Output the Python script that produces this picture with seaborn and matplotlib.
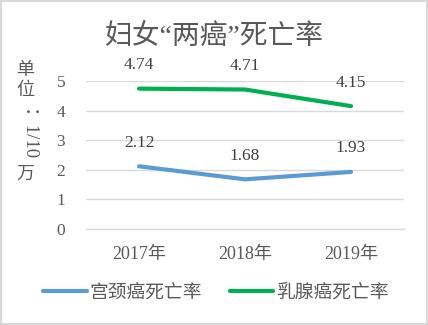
import matplotlib
matplotlib.use("Agg")
import matplotlib.pyplot as plt
import seaborn as sns
import pandas as pd
from matplotlib.patches import Rectangle

years = ["2017年", "2018年", "2019年"]
cervical = [2.12, 1.68, 1.93]
breast = [4.74, 4.71, 4.15]
series_names = ["宫颈癌死亡率", "乳腺癌死亡率"]
colors = ["#5B9BD5", "#00B050"]
yticks = [0, 1, 2, 3, 4, 5]

sns.set_style("white")
plt.rcParams['font.family'] = ['Liberation Serif', 'Noto Sans CJK SC', 'DejaVu Sans']
TXT = "#595959"

df = pd.DataFrame({
    "year": years * 2,
    "x": list(range(len(years))) * 2,
    "value": cervical + breast,
    "series": [series_names[0]] * 3 + [series_names[1]] * 3,
})

fig = plt.figure(figsize=(4.28, 3.25), dpi=100)
ax = fig.add_axes([0.201, 0.295, 0.743, 0.456])
sns.lineplot(data=df, x="x", y="value", hue="series", palette=colors,
             linewidth=3, ax=ax, legend=True)

for vals in (cervical, breast):
    for i, v in enumerate(vals):
        ax.annotate(f"{v:.2f}", (i, v), xytext=(0, 17), textcoords="offset points",
                    ha="center", va="center", fontsize=12.5, color="#404040")

ax.set_xlim(-0.5, 2.5)
ax.set_ylim(0, 5)
ax.set_yticks(yticks)
ax.set_yticklabels([str(t) for t in yticks], fontsize=12.5, color=TXT)
ax.set_xticks(range(len(years)))
ax.set_xticklabels(years, fontsize=13, color=TXT)
ax.set_xticks([-0.5, 0.5, 1.5, 2.5], minor=True)
ax.tick_params(axis="x", which="major", length=0, pad=12)
ax.tick_params(axis="x", which="minor", length=5, color="#D9D9D9", width=1)
ax.tick_params(axis="y", length=0, pad=15)
ax.grid(axis="y", color="#D9D9D9", linewidth=1)
ax.set_axisbelow(True)
for s in ("top", "right", "left"):
    ax.spines[s].set_visible(False)
ax.spines["bottom"].set_color("#D9D9D9")
ax.spines["bottom"].set_linewidth(1)
ax.set_xlabel("")
ax.set_ylabel("")

handles, labels = ax.get_legend_handles_labels()
leg = ax.legend(handles, labels, loc="center", bbox_to_anchor=(216 / 428, 1 - 293 / 325),
                bbox_transform=fig.transFigure, ncol=2, frameon=False,
                prop={"size": 13.5},
                handlelength=2.3, columnspacing=1.5, handletextpad=0.15, labelcolor=TXT)

fig.text(0.5, 1 - 37 / 325, "妇女“两癌”死亡率", ha="center", va="center",
         fontsize=20, color=TXT)

# vertical unit label
fig.text(25 / 428, 1 - 70 / 325, "单", ha="center", va="center", fontsize=13, color=TXT)
fig.text(25 / 428, 1 - 90 / 325, "位", ha="center", va="center", fontsize=13, color=TXT)
fig.text(27 / 428, 1 - 135 / 325, "：1/10", ha="center", va="center", fontsize=13.5,
         color=TXT, rotation=-90)
fig.text(25 / 428, 1 - 174 / 325, "万", ha="center", va="center", fontsize=13, color=TXT)

fig.patches.append(Rectangle((1 / 428, 1 / 325), 426 / 428, 323 / 325, transform=fig.transFigure,
                             fill=False, edgecolor="#D9D9D9", linewidth=1.5))

fig.savefig("out.png", dpi=100)
